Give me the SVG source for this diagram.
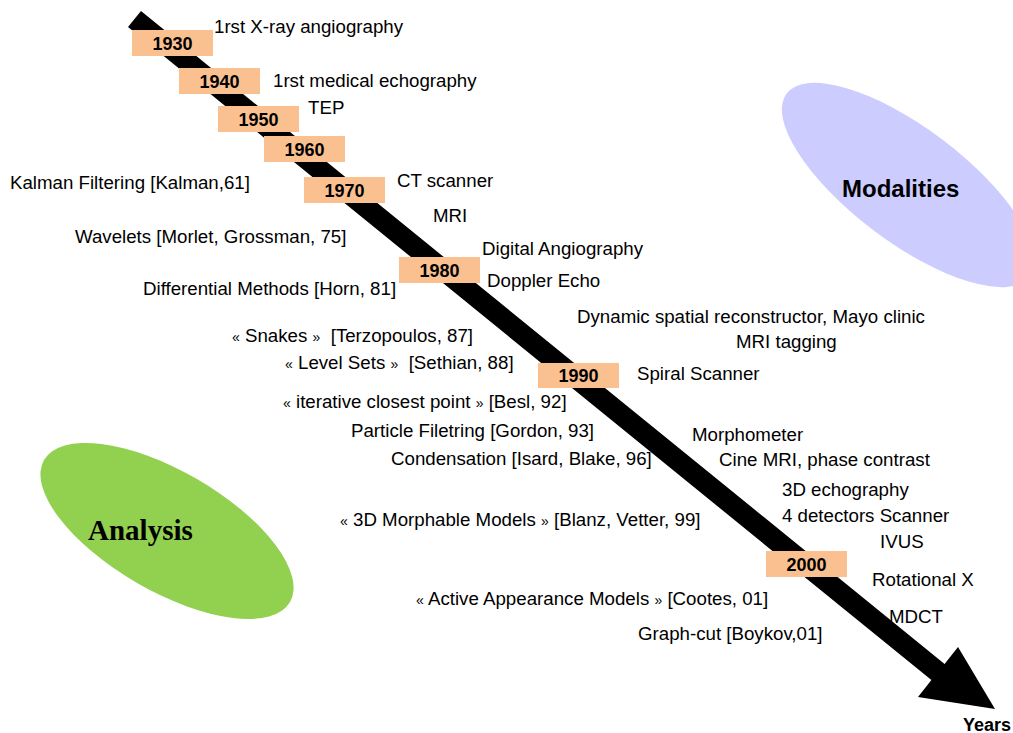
<svg xmlns="http://www.w3.org/2000/svg" width="1013" height="733" viewBox="0 0 1013 733">
<style>
.t{font-family:"Liberation Sans",Arial,sans-serif;font-size:18.7px;fill:#000;white-space:pre}
.g{font-size:14px}
.yr{fill:#FAC090}
.yt{font-family:"Liberation Sans",Arial,sans-serif;font-size:18px;font-weight:bold;fill:#000;text-anchor:middle}
</style>
<rect width="1013" height="733" fill="#fff"/>
<g id="modalities">
<ellipse cx="908" cy="185" rx="152" ry="57" transform="rotate(37 908 185)" fill="#CCCCFF"/>
<text x="842" y="197" style="font-family:'Liberation Sans',Arial,sans-serif;font-size:24px;font-weight:bold">Modalities</text>
</g>
<g id="analysis">
<ellipse cx="167" cy="531" rx="142" ry="60" transform="rotate(30 167 531)" fill="#92D050"/>
<text x="88" y="540" style="font-family:'Liberation Serif','Times New Roman',serif;font-size:29px;font-weight:bold">Analysis</text>
</g>
<g id="connectors">
<polygon id="timeline" points="141,11 944.6,663.9 958,647 995,709 918,697 931.4,680.1 128,27" fill="#000"/>
</g>
<g id="y1930"><rect class="yr" x="132" y="30" width="81" height="26"/><text class="yt" x="172.5" y="49.5">1930</text></g>
<g id="y1940"><rect class="yr" x="179" y="68" width="81" height="26"/><text class="yt" x="219.5" y="87.5">1940</text></g>
<g id="y1950"><rect class="yr" x="218" y="106" width="81" height="26"/><text class="yt" x="258.5" y="125.5">1950</text></g>
<g id="y1960"><rect class="yr" x="264" y="136" width="81" height="26"/><text class="yt" x="304.5" y="155.5">1960</text></g>
<g id="y1970"><rect class="yr" x="304" y="177" width="81" height="26"/><text class="yt" x="344.5" y="196.5">1970</text></g>
<g id="y1980"><rect class="yr" x="399" y="257" width="81" height="26"/><text class="yt" x="439.5" y="276.5">1980</text></g>
<g id="y1990"><rect class="yr" x="538" y="363" width="81" height="25"/><text class="yt" x="578.5" y="382">1990</text></g>
<g id="y2000"><rect class="yr" x="766" y="551" width="81" height="26"/><text class="yt" x="806.5" y="570.5">2000</text></g>
<g id="labels">
<text class="t" x="214" y="33">1rst X-ray angiography</text>
<text class="t" x="273" y="87">1rst medical echography</text>
<text class="t" x="308" y="114">TEP</text>
<text class="t" x="10" y="189">Kalman Filtering [Kalman,61]</text>
<text class="t" x="397" y="187">CT scanner</text>
<text class="t" x="433" y="222">MRI</text>
<text class="t" x="75" y="243">Wavelets [Morlet, Grossman, 75]</text>
<text class="t" x="482" y="255">Digital Angiography</text>
<text class="t" x="487" y="287">Doppler Echo</text>
<text class="t" x="143" y="295">Differential Methods [Horn, 81]</text>
<text class="t" x="577" y="323">Dynamic spatial reconstructor, Mayo clinic</text>
<text class="t" x="232" y="342"><tspan class="g">«</tspan> Snakes <tspan class="g">»</tspan>  [Terzopoulos, 87]</text>
<text class="t" x="736" y="348">MRI tagging</text>
<text class="t" x="285" y="369"><tspan class="g">«</tspan> Level Sets <tspan class="g">»</tspan>  [Sethian, 88]</text>
<text class="t" x="637" y="380">Spiral Scanner</text>
<text class="t" x="283" y="408"><tspan class="g">«</tspan> iterative closest point <tspan class="g">»</tspan> [Besl, 92]</text>
<text class="t" x="351" y="437">Particle Filetring [Gordon, 93]</text>
<text class="t" x="692" y="441">Morphometer</text>
<text class="t" x="391" y="465">Condensation [Isard, Blake, 96]</text>
<text class="t" x="719" y="466">Cine MRI, phase contrast</text>
<text class="t" x="782" y="496">3D echography</text>
<text class="t" x="782" y="522">4 detectors Scanner</text>
<text class="t" x="340" y="526"><tspan class="g">«</tspan> 3D Morphable Models <tspan class="g">»</tspan> [Blanz, Vetter, 99]</text>
<text class="t" x="880" y="548">IVUS</text>
<text class="t" x="872" y="586">Rotational X</text>
<text class="t" x="416" y="605"><tspan class="g">«</tspan> Active Appearance Models <tspan class="g">»</tspan> [Cootes, 01]</text>
<text class="t" x="889" y="623">MDCT</text>
<text class="t" x="638" y="640">Graph-cut [Boykov,01]</text>
<text class="t" x="963" y="731" style="font-size:18px;font-weight:bold">Years</text>
</g>
</svg>
